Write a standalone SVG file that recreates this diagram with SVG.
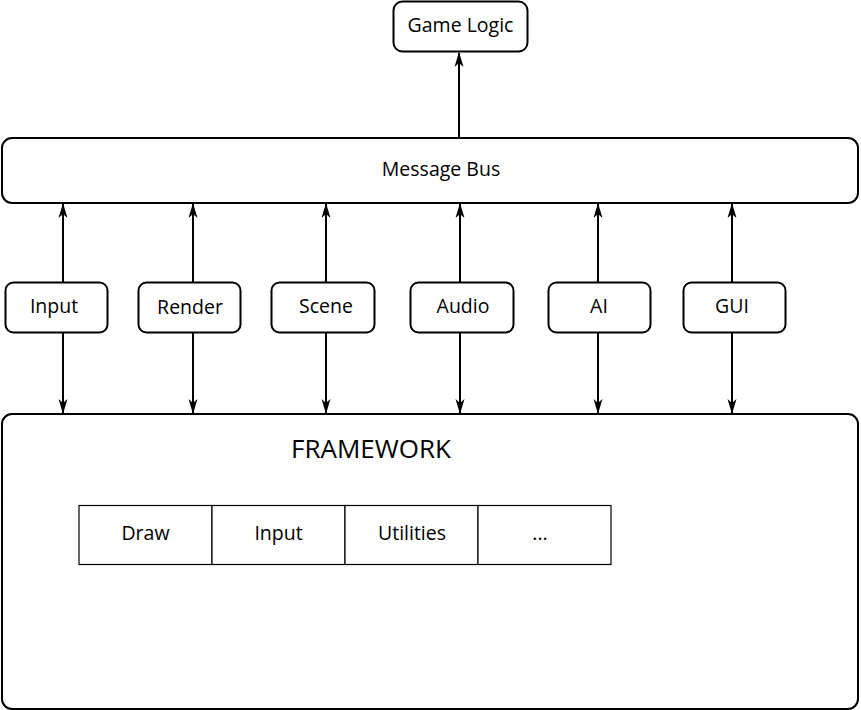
<svg xmlns="http://www.w3.org/2000/svg" width="861" height="710" viewBox="0 0 861 710">
<style>
.box{fill:#fff;stroke:#000;stroke-width:2}
.cell{fill:#fff;stroke:#000;stroke-width:1.2}
.t{font-family:"Open Sans","DejaVu Sans",sans-serif;font-size:19.5px;fill:#000;text-anchor:middle;dominant-baseline:central}
.big{font-size:26px}
.c{stroke:#000;stroke-width:2;fill:none}
</style>
<defs>
<marker id="ah" viewBox="0 0 15 10" refX="14" refY="5" markerWidth="15" markerHeight="10" markerUnits="userSpaceOnUse" orient="auto-start-reverse">
<path d="M0,0.5 L15,5 L0,9.5 L4,5 Z" fill="#000"/>
</marker>
</defs>
<rect width="861" height="710" fill="#fff"/>
<g id="connectors">
<line class="c" x1="459" y1="137" x2="459" y2="53" marker-end="url(#ah)"/>
<line class="c" x1="63" y1="282" x2="63" y2="204" marker-end="url(#ah)"/>
<line class="c" x1="63" y1="333" x2="63" y2="413" marker-end="url(#ah)"/>
<line class="c" x1="193" y1="282" x2="193" y2="204" marker-end="url(#ah)"/>
<line class="c" x1="193" y1="333" x2="193" y2="413" marker-end="url(#ah)"/>
<line class="c" x1="326" y1="282" x2="326" y2="204" marker-end="url(#ah)"/>
<line class="c" x1="326" y1="333" x2="326" y2="413" marker-end="url(#ah)"/>
<line class="c" x1="460" y1="282" x2="460" y2="204" marker-end="url(#ah)"/>
<line class="c" x1="460" y1="333" x2="460" y2="413" marker-end="url(#ah)"/>
<line class="c" x1="598" y1="282" x2="598" y2="204" marker-end="url(#ah)"/>
<line class="c" x1="598" y1="333" x2="598" y2="413" marker-end="url(#ah)"/>
<line class="c" x1="732" y1="282" x2="732" y2="204" marker-end="url(#ah)"/>
<line class="c" x1="732" y1="333" x2="732" y2="413" marker-end="url(#ah)"/>
</g>
<g id="game-logic"><rect class="box" x="393.5" y="1.5" width="134" height="50" rx="9"/><text class="t" x="460.5" y="24.5">Game Logic</text></g>
<g id="message-bus"><rect class="box" x="2" y="138" width="856" height="65" rx="10"/><text class="t" x="441" y="168.5">Message Bus</text></g>
<g id="input"><rect class="box" x="5.5" y="282.5" width="102" height="50" rx="8"/><text class="t" x="54" y="305">Input</text></g>
<g id="render"><rect class="box" x="138.5" y="282.5" width="102" height="50" rx="8"/><text class="t" x="190" y="306">Render</text></g>
<g id="scene"><rect class="box" x="271.5" y="282.5" width="103" height="50" rx="8"/><text class="t" x="326" y="305">Scene</text></g>
<g id="audio"><rect class="box" x="410.5" y="282.5" width="103" height="50" rx="8"/><text class="t" x="463" y="305">Audio</text></g>
<g id="ai"><rect class="box" x="548.5" y="282.5" width="102" height="50" rx="8"/><text class="t" x="599" y="305">AI</text></g>
<g id="gui"><rect class="box" x="683.5" y="282.5" width="102" height="50" rx="8"/><text class="t" x="732" y="305">GUI</text></g>
<g id="framework"><rect class="box" x="2" y="414" width="856" height="295" rx="10"/><text class="t big" x="371" y="448">FRAMEWORK</text></g>
<g id="fw-draw"><rect class="cell" x="79" y="505.5" width="133" height="59"/><text class="t" x="145.5" y="532.5">Draw</text></g>
<g id="fw-input"><rect class="cell" x="212" y="505.5" width="133" height="59"/><text class="t" x="278.5" y="532.5">Input</text></g>
<g id="fw-utilities"><rect class="cell" x="345" y="505.5" width="133" height="59"/><text class="t" x="412" y="532.5">Utilities</text></g>
<g id="fw-more"><rect class="cell" x="478" y="505.5" width="133" height="59"/><text class="t" x="540" y="532.5">...</text></g>
</svg>
